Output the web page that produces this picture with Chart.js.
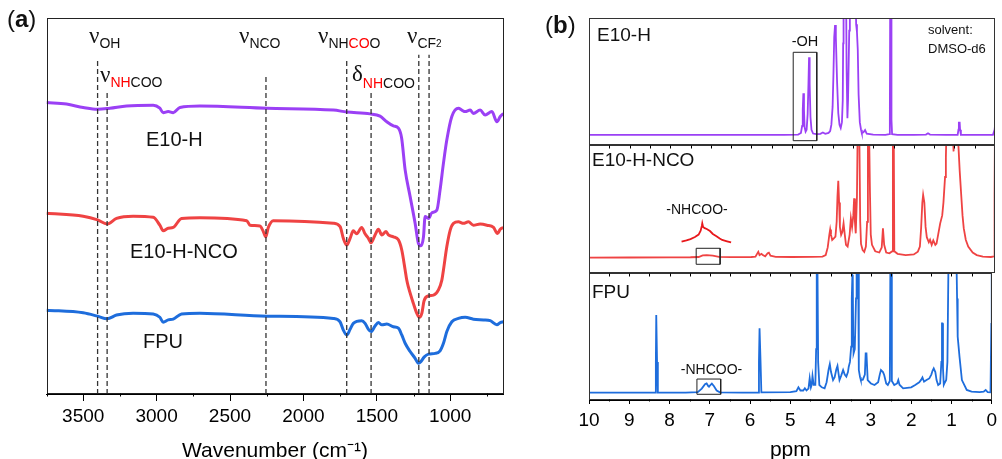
<!DOCTYPE html>
<html><head><meta charset="utf-8">
<script src="https://cdn.jsdelivr.net/npm/chart.js@4.4.1/dist/chart.umd.min.js"></script>
<style>
html,body{margin:0;padding:0;overflow:hidden;background:#fff;width:1002px;height:459px}
canvas{position:absolute;left:0;top:0}
</style></head>
<body>
<canvas id="cA" width="1002" height="465"></canvas>
<canvas id="cB1" width="1002" height="465"></canvas>
<canvas id="cB2" width="1002" height="465"></canvas>
<canvas id="cB3" width="1002" height="465"></canvas>
<script>
// ---------------- DATA ----------------
// (a) FTIR: [wavenumber, relative transmittance (offset)]
const irE10H = [[3750,77.5],[3614,77.1],[3500,76.2],[3402,75.7],[3318,76.0],[3205,76.6],[3023,76.8],[2978,76.0],[2955,74.8],[2921,75.1],[2887,74.8],[2841,76.2],[2705,76.6],[2250,76.0],[1796,75.5],[1705,75.0],[1546,74.5],[1478,73.9],[1432,72.4],[1387,71.3],[1353,70.7],[1331,68.1],[1307,59.6],[1273,52.5],[1239,45.4],[1217,40.1],[1200,39.4],[1182,41.8],[1171,47.2],[1148,46.7],[1125,48.2],[1091,48.9],[1069,54.3],[1046,61.4],[1023,67.6],[989,73.8],[944,76.0],[921,75.5],[898,75.1],[864,75.5],[842,74.6],[796,75.5],[762,74.2],[716,75.1],[682,72.4],[659,73.8],[637,74.6]];
const irE10HNCO = [[3750,48.1],[3500,47.3],[3402,46.3],[3337,45.2],[3273,46.7],[3160,47.3],[3023,47.0],[2978,44.9],[2955,43.4],[2921,44.1],[2887,44.3],[2830,46.7],[2705,46.9],[2386,46.1],[2364,44.9],[2296,44.7],[2273,43.2],[2257,41.8],[2239,44.3],[2205,46.1],[1796,45.4],[1750,44.5],[1728,41.4],[1705,39.6],[1682,41.4],[1660,43.4],[1637,42.6],[1603,44.3],[1580,42.6],[1557,41.4],[1539,40.2],[1512,42.3],[1489,43.8],[1466,42.3],[1437,43.2],[1421,42.3],[1387,41.8],[1353,41.0],[1330,38.3],[1307,33.0],[1296,30.3],[1285,28.5],[1251,24.1],[1228,21.5],[1210,20.4],[1193,21.5],[1178,24.8],[1148,26.1],[1114,26.3],[1080,27.7],[1057,30.3],[1046,33.0],[1023,39.2],[1000,43.6],[978,45.4],[944,45.8],[910,45.4],[876,45.8],[842,44.9],[796,45.2],[750,44.9],[705,44.3],[678,42.7],[659,43.8],[637,44.3]];
const irFPU = [[3750,22.3],[3500,21.6],[3402,20.7],[3337,20.0],[3273,21.0],[3160,21.5],[3023,21.3],[2978,20.4],[2955,19.1],[2921,19.7],[2887,19.9],[2830,21.3],[2705,21.5],[2250,20.7],[1796,20.1],[1750,19.2],[1728,17.0],[1705,15.7],[1682,17.2],[1660,18.8],[1603,19.5],[1580,18.8],[1557,17.2],[1539,16.6],[1512,18.1],[1489,19.0],[1466,18.4],[1432,18.6],[1387,17.9],[1353,17.5],[1330,15.7],[1307,13.5],[1273,11.3],[1239,9.5],[1217,8.2],[1200,8.6],[1178,9.8],[1148,10.6],[1102,10.8],[1069,11.5],[1046,13.5],[1023,16.6],[989,19.2],[944,20.1],[898,20.4],[842,19.9],[773,19.7],[728,19.5],[682,18.4],[659,19.0],[637,19.2]];
const irMarks = [3402, 3337, 2255, 1705, 1539, 1214, 1144];
const irMarkTops = [88.8, 80.3, 84.3, 89.1, 80.3, 90.2, 90.2];
const irMajorTicks = [3500, 3000, 2500, 2000, 1500, 1000];
const irMinorTicks = [3750, 3250, 2750, 2250, 1750, 1250, 750];

// (b) 1H NMR: [ppm, relative intensity]
const nmrE10H = [[10,7.9],[9,7.9],[8,7.9],[7,7.9],[6,7.9],[5.2,8.0],[4.85,8.2],[4.78,9.5],[4.75,15],[4.735,28],[4.72,40.7],[4.705,28],[4.69,14],[4.665,10.5],[4.64,12],[4.615,24],[4.595,48],[4.58,69],[4.565,48],[4.545,22],[4.52,12],[4.48,9],[4.40,8.5],[4.30,8.8],[4.24,9.8],[4.18,8.8],[4.10,9.5],[4.06,11],[4.03,16],[4.00,30],[3.98,55],[3.96,85],[3.94,94.5],[3.92,85],[3.89,50],[3.86,25],[3.83,16],[3.80,13.4],[3.77,18],[3.75,35],[3.74,80],[3.73,130],[3.67,130],[3.655,60],[3.635,21],[3.62,35],[3.59,90],[3.575,130],[3.44,130],[3.42,95],[3.40,89],[3.38,75],[3.36,40],[3.33,18],[3.30,12],[3.28,9.4],[3.24,10],[3.20,11.8],[3.16,9],[3.0,8.2],[2.7,8.0],[2.6,8.5],[2.59,20],[2.58,130],[2.56,130],[2.55,20],[2.535,8.5],[2.4,8.0],[2.0,8.0],[1.7,8.2],[1.65,9.2],[1.6,8.2],[1.2,8.0],[0.92,8.0],[0.90,12],[0.89,17.6],[0.87,17.6],[0.86,12],[0.84,8.0],[0.4,8.0],[0.05,8.0],[0.01,12],[0,15]];
const nmrE10HNCO = [[10,12.0],[9,12.1],[8,12.2],[7.5,12.3],[7.3,12.5],[7.2,13.8],[7.1,14.0],[6.95,13.5],[6.8,12.6],[6.5,12.4],[6.0,12.5],[5.9,12.8],[5.85,15.5],[5.83,16.6],[5.8,14],[5.75,15],[5.72,14],[5.66,13],[5.6,15.5],[5.57,15.9],[5.53,13.5],[5.4,12.6],[5.0,12.5],[4.5,12.6],[4.25,12.8],[4.17,14],[4.12,20],[4.08,30],[4.06,34],[4.04,30],[4.01,25.8],[3.97,27],[3.93,28.4],[3.90,40],[3.88,60],[3.86,72],[3.84,55],[3.82,36],[3.79,29.7],[3.76,32],[3.73,38.8],[3.70,30],[3.67,22],[3.63,20.6],[3.58,30],[3.55,42.7],[3.52,36],[3.49,45],[3.47,58.3],[3.45,40],[3.43,31],[3.40,60],[3.38,120],[3.345,120],[3.32,40],[3.30,22.7],[3.26,18],[3.22,16.5],[3.18,20.6],[3.15,40],[3.13,120],[3.105,120],[3.08,63.5],[3.06,30],[3.03,22],[2.95,17],[2.85,16],[2.79,20],[2.76,34.9],[2.73,22],[2.68,16],[2.6,15.4],[2.53,17],[2.515,120],[2.495,120],[2.48,17],[2.4,15],[2.2,14],[2.0,14.5],[1.9,16.7],[1.85,20.6],[1.82,35],[1.79,55],[1.77,61],[1.74,55],[1.71,36],[1.68,28],[1.63,24],[1.60,26],[1.56,22],[1.52,25.5],[1.47,22],[1.44,23],[1.40,30],[1.35,38.8],[1.30,45],[1.27,55],[1.23,75],[1.21,90],[1.19,120],[1.15,120],[1.12,100],[1.10,120],[1.05,120],[1.02,95],[1.00,120],[0.95,120],[0.92,110],[0.90,98.7],[0.87,80],[0.84,64.8],[0.80,45],[0.77,35],[0.72,26],[0.66,20.6],[0.55,16],[0.45,14],[0.3,12.8],[0.1,12.5],[0.02,13],[0.01,60],[0,120]];
const nmrE10HNCOZoom = [[7.72,24.5],[7.6,25.5],[7.5,26.5],[7.39,28.1],[7.3,30],[7.25,33],[7.22,37],[7.21,38.8],[7.19,36],[7.15,35],[7.1,34.4],[7.02,32.8],[6.95,30.5],[6.87,28.9],[6.78,27],[6.72,25.8],[6.6,24.8],[6.5,24]];
const nmrFPU = [[10,5.8],[8.5,5.8],[8.36,5.9],[8.34,30],[8.33,66.9],[8.32,66.9],[8.31,30],[8.29,5.9],[7.6,5.8],[7.3,6.2],[7.2,9],[7.12,12.5],[7.08,13.1],[7.04,11],[7.02,10.5],[6.98,12],[6.95,12.9],[6.90,11],[6.83,7.5],[6.75,6],[6.2,5.8],[5.8,5.9],[5.78,30],[5.765,56.4],[5.755,56.4],[5.74,30],[5.72,6],[5.0,6.2],[4.85,7],[4.80,10],[4.75,7.5],[4.68,7.5],[4.64,9.2],[4.6,7.5],[4.55,9],[4.52,17.1],[4.49,10],[4.47,12],[4.45,18.9],[4.42,12],[4.38,12],[4.36,40],[4.345,120],[4.33,120],[4.31,30],[4.28,11.8],[4.22,10],[4.15,9.2],[4.10,14],[4.05,24],[4.02,28.3],[3.99,22],[3.94,15.7],[3.90,18],[3.86,24],[3.83,26.8],[3.80,20],[3.78,15.7],[3.74,19],[3.69,23.6],[3.65,20],[3.61,18.4],[3.57,22],[3.55,26.2],[3.52,30],[3.49,42],[3.475,80],[3.46,98.4],[3.45,97.1],[3.44,50],[3.43,36.7],[3.40,40],[3.37,80],[3.355,120],[3.32,120],[3.30,23.6],[3.27,18],[3.25,15.7],[3.20,16],[3.15,20],[3.13,36.7],[3.11,36.7],[3.08,15.7],[3.0,13],[2.91,11.8],[2.82,14],[2.78,20],[2.75,23.6],[2.70,22],[2.67,19.7],[2.62,13],[2.58,11.8],[2.53,15],[2.515,120],[2.495,120],[2.48,15],[2.42,11.8],[2.35,13],[2.32,15.7],[2.29,12],[2.2,9.2],[2.0,10],[1.9,11.8],[1.80,14],[1.75,16],[1.72,17.8],[1.68,14.4],[1.62,15.7],[1.55,17],[1.50,20],[1.47,23],[1.44,24.9],[1.40,22],[1.37,15.7],[1.33,11.8],[1.28,13],[1.25,30],[1.235,60.4],[1.225,60.4],[1.21,25],[1.19,12],[1.16,14],[1.13,15.7],[1.10,30],[1.07,120],[0.88,120],[0.86,80],[0.845,49.9],[0.80,34.1],[0.74,15.7],[0.62,7.9],[0.5,6.6],[0.3,6.2],[0.2,6.6],[0.15,7.9],[0.1,6.2],[0.03,6],[0.01,60],[0,120]];
const boxOH = [[4.97,3.4],[4.97,73],[4.39,73],[4.39,3.4],[4.97,3.4]];
const boxNCO = [[7.36,6.8],[7.36,19.3],[6.77,19.3],[6.77,6.8],[7.36,6.8]];
const boxFPU = [[7.32,4.5],[7.32,16.5],[6.73,16.5],[6.73,4.5],[7.32,4.5]];
const nmrMajorTicks = [10,9,8,7,6,5,4,3,2,1,0];
const nmrMinorTicks = [9.5,8.5,7.5,6.5,5.5,4.5,3.5,2.5,1.5,0.5];
const nmrInnerTicks = [9.5,9,8.5,8,7.5,7,6.5,6,5.5,5,4.5,4,3.5,3,2.5,2,1.5,1,0.5];

// ---------------- STYLE ----------------
const W = 1002, H = 465;
const PURPLE = '#9B40F5', RED = '#EF4343', BLUE = '#1E6DDC', HIRED = '#FF0000';
const SANS = '"Liberation Sans", Arial, sans-serif';
const SERIF = '"Liberation Serif", "Times New Roman", serif';
Chart.defaults.font.family = SANS;
Chart.defaults.color = '#000';

const pts = arr => arr.map(p => ({x: p[0], y: p[1]}));

const annot = {
  id: 'annot',
  afterDraw(chart, args, o) {
    const ctx = chart.ctx, a = chart.chartArea, xs = chart.scales.x;
    ctx.save();
    ctx.lineWidth = 1;
    ctx.strokeStyle = o.frameColor || '#222';
    const L = Math.round(a.left) + 0.5, R = Math.round(a.right) - 0.5;
    const T = Math.round(a.top) + 0.5, B = Math.round(a.bottom) - 0.5;
    ctx.strokeRect(L, T, R - L, B - T);
    ctx.strokeStyle = '#000';
    (o.bottomTicks || []).forEach(v => {
      const p = Math.round(xs.getPixelForValue(v)) + 0.5;
      ctx.beginPath(); ctx.moveTo(p, B); ctx.lineTo(p, B + o.bottomLen); ctx.stroke();
    });
    (o.topTicks || []).forEach(v => {
      const p = Math.round(xs.getPixelForValue(v)) + 0.5;
      ctx.beginPath(); ctx.moveTo(p, T); ctx.lineTo(p, T + o.topLen); ctx.stroke();
    });
    (o.texts || []).forEach(tx => {
      let w = 0;
      tx.parts.forEach(p => { ctx.font = p.f || tx.f; w += ctx.measureText(p.t).width; });
      let x = tx.align === 'center' ? tx.x - w / 2 : tx.x;
      tx.parts.forEach(p => {
        ctx.font = p.f || tx.f;
        ctx.fillStyle = p.c || '#111';
        ctx.textAlign = 'left'; ctx.textBaseline = 'alphabetic';
        ctx.fillText(p.t, x, tx.y + (p.dy || 0));
        x += ctx.measureText(p.t).width;
      });
    });
    ctx.restore();
  }
};
Chart.register(annot);

const NU = '23px ' + SERIF, SUB = '14px ' + SANS, LAB = '20px ' + SANS;
const nu = {t: 'ν', f: NU};
const sub = (t, c) => ({t, f: SUB, dy: 5, c});

// ---------------- PANEL (a) ----------------
const dashSets = irMarks.map((x, i) => ({
  data: [{x, y: 0}, {x, y: irMarkTops[i]}],
  borderColor: '#333', borderWidth: 1.3, borderDash: [5, 3], pointRadius: 0, tension: 0
}));
const irLine = (d, c) => ({data: pts(d), borderColor: c, borderWidth: 3, pointRadius: 0, cubicInterpolationMode: 'monotone'});

new Chart(document.getElementById('cA'), {
  type: 'line',
  data: {datasets: [...dashSets, irLine(irE10H, PURPLE), irLine(irE10HNCO, RED), irLine(irFPU, BLUE)]},
  options: {
    responsive: false, animation: false, devicePixelRatio: 1,
    layout: {padding: {left: 46.5, top: 18, right: W - 503.5, bottom: 0}},
    plugins: {
      legend: {display: false}, tooltip: {enabled: false},
      annot: {
        frameColor: '#222', bottomTicks: irMinorTicks, bottomLen: 3,
        texts: [
          {x: 7, y: 27, parts: [{t: '(', f: '24px ' + SANS}, {t: 'a', f: 'bold 24px ' + SANS}, {t: ')', f: '24px ' + SANS}]},
          {x: 89, y: 43, parts: [nu, sub('OH')]},
          {x: 100, y: 82, parts: [nu, sub('NH', HIRED), sub('COO')]},
          {x: 239, y: 43, parts: [nu, sub('NCO')]},
          {x: 318, y: 43, parts: [nu, sub('NH'), sub('CO', HIRED), sub('O')]},
          {x: 352, y: 81, parts: [{t: 'δ', f: NU}, {t: 'NH', f: SUB, dy: 7, c: HIRED}, {t: 'COO', f: SUB, dy: 7}]},
          {x: 407, y: 43, parts: [nu, sub('CF'), {t: '2', f: '10px ' + SANS, dy: 4}]},
          {x: 146, y: 145.5, f: LAB, parts: [{t: 'E10-H'}]},
          {x: 130, y: 257.5, f: LAB, parts: [{t: 'E10-H-NCO'}]},
          {x: 143, y: 348, f: LAB, parts: [{t: 'FPU'}]}
        ]
      }
    },
    scales: {
      x: {
        type: 'linear', reverse: true, min: 637, max: 3750,
        afterBuildTicks: s => { s.ticks = irMajorTicks.map(v => ({value: v})); },
        afterFit: s => { s.height = H - 394; },
        grid: {drawOnChartArea: false, drawTicks: true, tickLength: 7, tickColor: '#000', tickWidth: 1},
        border: {display: true, color: '#000', width: 1},
        ticks: {color: '#000', font: {size: 19}, padding: 4, maxRotation: 0, autoSkip: false, callback: v => String(v)},
        title: {display: true, text: 'Wavenumber (cm⁻¹)', color: '#000', font: {size: 21}, padding: {top: 0, bottom: 1.6}}
      },
      y: {display: false, min: 0, max: 100}
    }
  }
});

// ---------------- PANEL (b) ----------------
const nmrLine = (d, c, w) => ({data: pts(d), borderColor: c, borderWidth: w || 1.8, pointRadius: 0, tension: 0});
const boxSet = d => ({data: pts(d), borderColor: '#222', borderWidth: 1, pointRadius: 0, tension: 0});

function nmrChart(id, top, bottom, datasets, extra, showAxis) {
  const xScale = {
    type: 'linear', reverse: true, min: 0, max: 10, display: !!showAxis
  };
  if (showAxis) {
    Object.assign(xScale, {
      afterBuildTicks: s => { s.ticks = nmrMajorTicks.map(v => ({value: v})); },
      afterFit: s => { s.height = H - bottom; },
      grid: {drawOnChartArea: false, drawTicks: true, tickLength: 4, tickColor: '#000', tickWidth: 1},
      border: {display: true, color: '#000', width: 1},
      ticks: {color: '#000', font: {size: 19}, padding: 5, maxRotation: 0, autoSkip: false, callback: v => String(v)},
      title: {display: true, text: 'ppm', color: '#000', font: {size: 21}, padding: {top: 0, bottom: 2}}
    });
  }
  return new Chart(document.getElementById(id), {
    type: 'line',
    data: {datasets},
    options: {
      responsive: false, animation: false, devicePixelRatio: 1,
      layout: {padding: {left: 589, top, right: W - 995, bottom: showAxis ? 0 : H - bottom}},
      plugins: {legend: {display: false}, tooltip: {enabled: false}, annot: extra},
      scales: {x: xScale, y: {display: false, min: 0, max: 100}}
    }
  });
}

nmrChart('cB1', 18, 145, [boxSet(boxOH), nmrLine(nmrE10H, PURPLE)], {
  frameColor: '#333',
  texts: [
    {x: 545, y: 33, parts: [{t: '(', f: '24px ' + SANS}, {t: 'b', f: 'bold 24px ' + SANS}, {t: ')', f: '24px ' + SANS}]},
    {x: 597, y: 41, f: '19px ' + SANS, parts: [{t: 'E10-H'}]},
    {x: 928, y: 33.5, f: '13px ' + SANS, parts: [{t: 'solvent:'}]},
    {x: 928, y: 53, f: '13px ' + SANS, parts: [{t: 'DMSO-d6'}]},
    {x: 805, y: 46, align: 'center', f: '14.5px ' + SANS, parts: [{t: '-OH'}]}
  ]
});
nmrChart('cB2', 145, 273, [boxSet(boxNCO), nmrLine(nmrE10HNCOZoom, '#E8181C', 1.8), nmrLine(nmrE10HNCO, RED)], {
  frameColor: '#333', topTicks: nmrInnerTicks, topLen: 3,
  texts: [
    {x: 592, y: 166, f: '19px ' + SANS, parts: [{t: 'E10-H-NCO'}]},
    {x: 697, y: 213.5, align: 'center', f: '14px ' + SANS, parts: [{t: '-NHCOO-'}]}
  ]
});
nmrChart('cB3', 273, 400, [boxSet(boxFPU), nmrLine(nmrFPU, BLUE)], {
  frameColor: '#333', topTicks: nmrInnerTicks, topLen: 3, bottomTicks: nmrMinorTicks, bottomLen: 2,
  texts: [
    {x: 592, y: 297.5, f: '19px ' + SANS, parts: [{t: 'FPU'}]},
    {x: 711.5, y: 373.5, align: 'center', f: '14px ' + SANS, parts: [{t: '-NHCOO-'}]}
  ]
}, true);
</script>
</body></html>
